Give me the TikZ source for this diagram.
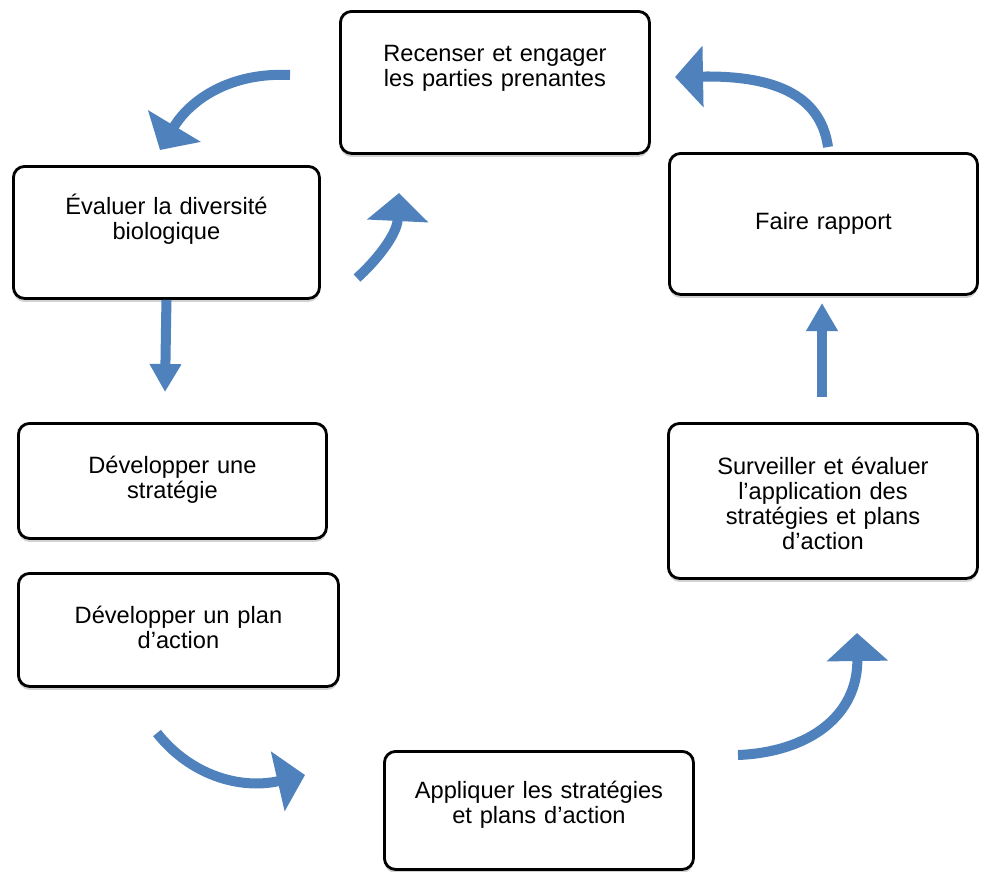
\documentclass[tikz,border=0pt]{standalone}
\usepackage{fontspec}
\setmainfont{Liberation Sans}
\usetikzlibrary{arrows.meta,shadows}
\definecolor{flowblue}{RGB}{79,129,189}

\begin{document}
\begin{tikzpicture}[x=0.025cm, y=-0.025cm,
box/.style={draw=black, line width=2pt, rounded corners=8pt, fill=white, anchor=north west, inner sep=0pt, align=center, font=\fontsize{16.8}{17.7}\selectfont, drop shadow={shadow xshift=0pt, shadow yshift=-2.5pt, fill=black!35}},
curved/.style={draw=flowblue, line width=0.25cm, -{Triangle[length=0.7cm, width=1.5cm]}},
straight/.style={draw=flowblue, line width=0.25cm, -{Triangle[length=0.7cm, width=0.75cm]}}
]
\useasboundingbox (0,0) rectangle (984,871);
%Nodes
\node[box, text width=7.725cm, text height=1.25cm, text depth=2.3cm]   (recense)   at (339,10)  {Recenser et engager\\les parties prenantes};
\node[box, text width=7.65cm, text height=1.2cm, text depth=2.1cm]     (evaluer)   at (12,165)  {Évaluer la diversité\\biologique};
\node[box, text width=7.7cm, text height=1.9cm, text depth=1.625cm]    (rapport)   at (668,152) {Faire rapport};
\node[box, text width=7.7cm, text height=1.25cm, text depth=1.625cm]   (strategie) at (17,422)  {Développer une\\stratégie};
\node[box, text width=8cm, text height=1.25cm, text depth=1.575cm]     (plan)      at (17,572)  {Développer un plan\\d’action};
\node[box, text width=7.725cm, text height=1.275cm, text depth=2.6cm]  (surveiller) at (667,422) {Surveiller et évaluer\\l’application des\\stratégies et plans\\d’action};
\node[box, text width=7.725cm, text height=1.175cm, text depth=1.775cm] (appliquer) at (383,750) {Appliquer les stratégies\\et plans d’action};
%Arrow ends
\coordinate (a1s) at (290,75);  \coordinate (a1e) at (160,150);
\coordinate (a2s) at (357,278); \coordinate (a2e) at (399,193);
\coordinate (a3e) at (165,392);
\coordinate (a4s) at (157,733); \coordinate (a4e) at (305,775);
\coordinate (a5s) at (738,755); \coordinate (a5e) at (857,633);
\coordinate (a6s) at (822,397); \coordinate (a6e) at (822,303);
\coordinate (a7s) at (828,147); \coordinate (a7e) at (675,77);
%Lines
\draw[curved] (a1s) .. controls (230,72) and (190,100) .. (a1e);
\draw[curved] (a2s) .. controls (375,262) and (397,235) .. (a2e);
\draw[straight] (evaluer.south) -- (a3e);
\draw[curved] (a4s) .. controls (190,775) and (240,790) .. (a4e);
\draw[curved] (a5s) .. controls (810,752) and (858,715) .. (a5e);
\draw[straight] (a6s) -- (a6e);
\draw[curved] (a7s) .. controls (822,105) and (790,75) .. (a7e);
\end{tikzpicture}
\end{document}
